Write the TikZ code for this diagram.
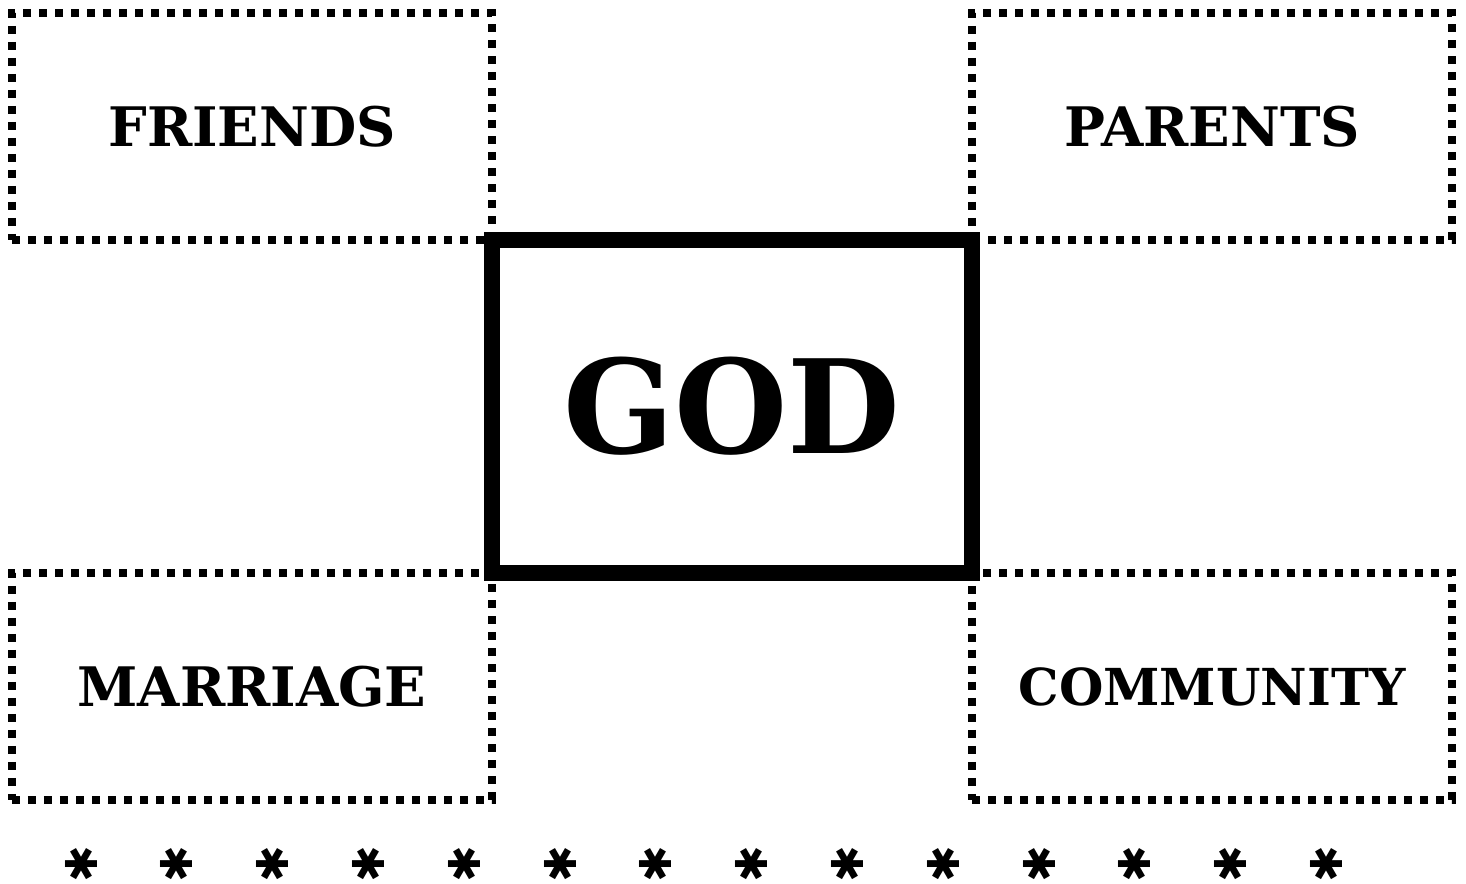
\documentclass[tikz,border=0pt]{standalone}
\usepackage{fontspec}
\setmainfont{DejaVu Serif}
\newfontfamily\starfont{DejaVu Sans}
\usepackage{tikz}
\usetikzlibrary{positioning}

\begin{document}
\begin{tikzpicture}
  \tikzstyle{side}=[draw,line width=1.6mm,dash pattern=on 1.6mm off 1.6mm,minimum width=9.6cm,minimum height=4.54cm,inner sep=0pt,outer sep=0pt,font=\fontsize{31}{31}\selectfont\bfseries]
  \tikzstyle{core}=[draw,line width=3.2mm,minimum width=9.6cm,minimum height=6.66cm,inner sep=0pt,outer sep=0pt,font=\fontsize{74}{74}\selectfont\bfseries]
  \tikzstyle{aster}=[inner sep=0pt,rotate=90,font=\starfont\fontsize{25}{25}\selectfont]
  \useasboundingbox (0,0) rectangle (29.32,17.68);
  \node[core] (god) at (14.64,9.55) {GOD};
  \node[side,anchor=south east] (friends) at (god.north west) {FRIENDS};
  \node[side,anchor=south west] (parents) at (god.north east) {PARENTS};
  \node[side,anchor=north east] (marriage) at (god.south west) {MARRIAGE};
  \node[side,anchor=north west] (community) at (god.south east) {\fontsize{29}{29}\selectfont COMMUNITY};
  % row of stars along the bottom
  \foreach \i in {0,...,13}
    \node[aster] (s\i) at ({1.62+\i*1.916},0.4) {✱};
\end{tikzpicture}
\end{document}
